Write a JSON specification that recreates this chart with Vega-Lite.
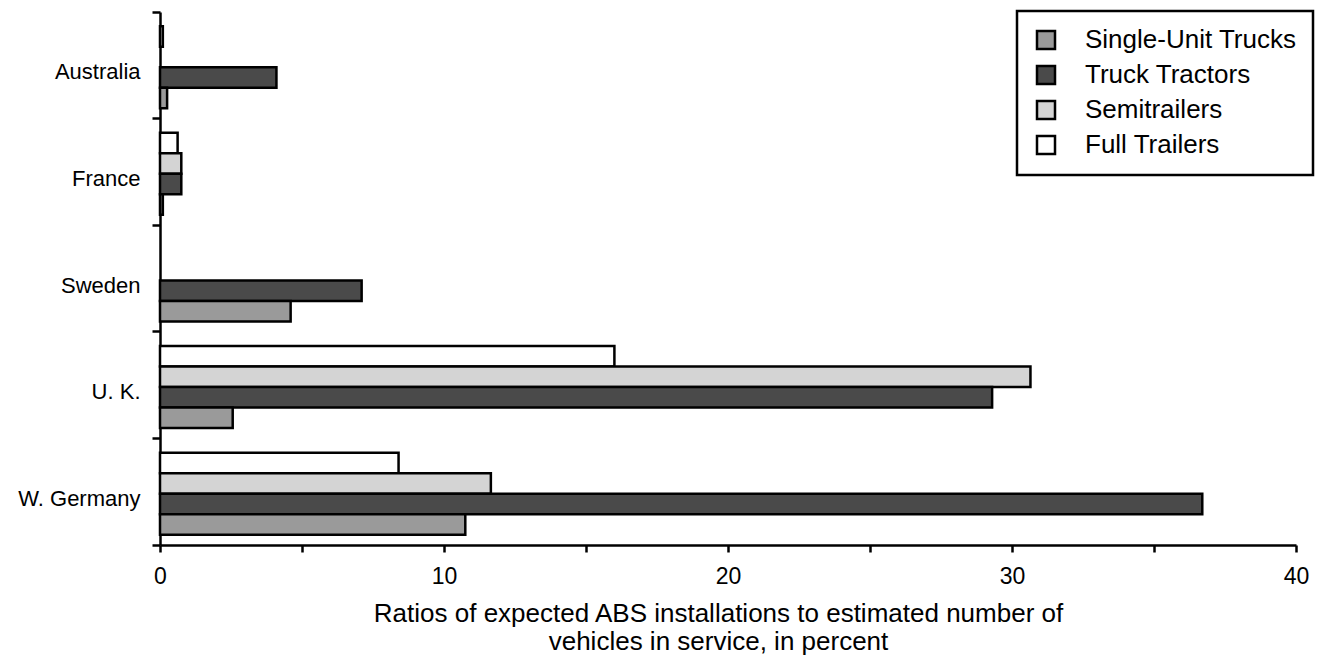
{
  "$schema": "https://vega.github.io/schema/vega-lite/v6.json",
  "width": 1136,
  "height": 533,
  "autosize": {"type": "none"},
  "padding": {"left": 160, "top": 12, "right": 21, "bottom": 125},
  "background": "white",
  "config": {
    "view": {"stroke": null},
    "font": "Liberation Sans",
    "legend": {"strokeColor": "black", "strokeWidth": 2.5, "fillColor": "white", "symbolStrokeWidth": 2.5, "symbolStrokeColor": "black"}
  },
  "data": {
    "values": [
      {"country": "Australia", "type": "Full Trailers", "value": 0.1},
      {"country": "Australia", "type": "Truck Tractors", "value": 4.1},
      {"country": "Australia", "type": "Single-Unit Trucks", "value": 0.25},
      {"country": "France", "type": "Full Trailers", "value": 0.62},
      {"country": "France", "type": "Semitrailers", "value": 0.75},
      {"country": "France", "type": "Truck Tractors", "value": 0.75},
      {"country": "France", "type": "Single-Unit Trucks", "value": 0.1},
      {"country": "Sweden", "type": "Truck Tractors", "value": 7.1},
      {"country": "Sweden", "type": "Single-Unit Trucks", "value": 4.6},
      {"country": "U. K.", "type": "Full Trailers", "value": 16.0},
      {"country": "U. K.", "type": "Semitrailers", "value": 30.65},
      {"country": "U. K.", "type": "Truck Tractors", "value": 29.3},
      {"country": "U. K.", "type": "Single-Unit Trucks", "value": 2.56},
      {"country": "W. Germany", "type": "Full Trailers", "value": 8.4},
      {"country": "W. Germany", "type": "Semitrailers", "value": 11.65},
      {"country": "W. Germany", "type": "Truck Tractors", "value": 36.7},
      {"country": "W. Germany", "type": "Single-Unit Trucks", "value": 10.75}
    ]
  },
  "mark": {"type": "bar", "stroke": "black", "strokeWidth": 2.5},
  "encoding": {
    "y": {
      "field": "country",
      "type": "nominal",
      "sort": ["Australia", "France", "Sweden", "U. K.", "W. Germany"],
      "scale": {"paddingInner": 0, "paddingOuter": 0},
      "axis": {
        "title": null,
        "bandPosition": 1,
        "tickExtra": true,
        "labelOffset": 7,
        "tickSize": 8,
        "tickWidth": 2.5,
        "tickColor": "black",
        "domainColor": "black",
        "domainWidth": 2.5,
        "labelFontSize": 22,
        "labelColor": "black",
        "labelPadding": 12,
        "grid": false
      }
    },
    "yOffset": {
      "field": "type",
      "type": "nominal",
      "sort": ["Full Trailers", "Semitrailers", "Truck Tractors", "Single-Unit Trucks"],
      "scale": {"paddingInner": 0, "paddingOuter": 0.6, "align": 0.58}
    },
    "x": {
      "field": "value",
      "type": "quantitative",
      "scale": {"domain": [0, 40], "nice": false},
      "axis": {
        "title": ["Ratios of expected ABS installations to estimated number of", "vehicles in service, in percent"],
        "values": [0, 5, 10, 15, 20, 25, 30, 35, 40],
        "labelExpr": "datum.value % 10 === 0 ? datum.label : ''",
        "tickSize": 7,
        "tickWidth": 2.5,
        "tickColor": "black",
        "domainColor": "black",
        "domainWidth": 2.5,
        "labelFontSize": 23,
        "labelColor": "black",
        "labelPadding": 13,
        "labelFlush": false,
        "titleFontSize": 26,
        "titleFontWeight": "normal",
        "titleColor": "black",
        "titlePadding": 12,
        "titleLineHeight": 28,
        "titleX": 558,
        "titleAlign": "center",
        "grid": false
      }
    },
    "fill": {
      "field": "type",
      "type": "nominal",
      "scale": {
        "domain": ["Single-Unit Trucks", "Truck Tractors", "Semitrailers", "Full Trailers"],
        "range": ["#9a9a9a", "#4a4a4a", "#d4d4d4", "#ffffff"]
      },
      "legend": {
        "title": null,
        "orient": "none",
        "legendX": 857,
        "legendY": -1,
        "symbolType": "square",
        "symbolSize": 324,
        "labelFontSize": 26,
        "labelColor": "black",
        "labelLimit": 400,
        "labelOffset": 26,
        "rowPadding": 7,
        "padding": 16
      }
    }
  }
}
